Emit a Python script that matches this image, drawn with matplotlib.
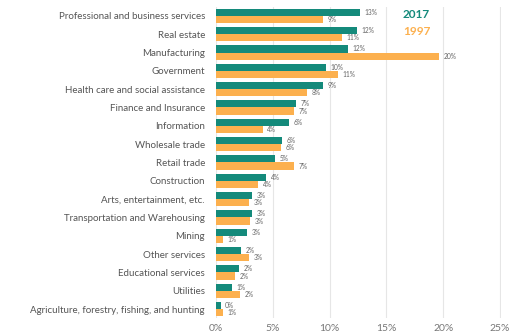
import matplotlib
matplotlib.use("Agg")
import numpy as np
import matplotlib.pyplot as plt

# share of GDP by industry, in percent
industries = [
    "Professional and business services", "Real estate", "Manufacturing",
    "Government", "Health care and social assistance", "Finance and Insurance",
    "Information", "Wholesale trade", "Retail trade", "Construction",
    "Arts, entertainment, etc.", "Transportation and Warehousing", "Mining",
    "Other services", "Educational services", "Utilities",
    "Agriculture, forestry, fishing, and hunting",
]
share_2017 = [12.7, 12.4, 11.6, 9.7, 9.4, 7.0, 6.4, 5.8, 5.2, 4.4,
              3.2, 3.2, 2.7, 2.2, 2.0, 1.4, 0.4]
share_1997 = [9.4, 11.1, 19.6, 10.7, 8.0, 6.9, 4.1, 5.7, 6.9, 3.7,
              2.9, 3.0, 0.6, 2.9, 1.7, 2.1, 0.6]
xticks = [0, 5, 10, 15, 20, 25]

teal = "#148a7b"
orange = "#fcb04e"
label_col = "#555555"

plt.rcParams["font.family"] = ["Lato", "DejaVu Sans"]

fig = plt.figure(figsize=(5.12, 3.35), dpi=100)
ax = fig.add_axes([0.422, 0.05, 0.557, 0.93])

y = np.arange(len(industries))
h = 0.39
ax.barh(y - h / 2, share_2017, height=h, color=teal, zorder=3)
ax.barh(y + h / 2, share_1997, height=h, color=orange, zorder=3)

for yi, v in zip(y, share_2017):
    ax.text(v + 0.4, yi - h / 2, f"{round(v)}%", va="center", ha="left",
            fontsize=4.8, color="#666666")
for yi, v in zip(y, share_1997):
    ax.text(v + 0.4, yi + h / 2, f"{round(v)}%", va="center", ha="left",
            fontsize=4.8, color="#666666")

ax.set_ylim(len(industries) - 0.5, -0.5)
ax.set_xlim(0, 25.1)
ax.set_yticks(y)
ax.set_yticklabels(industries, fontsize=7, color=label_col)
ax.set_xticks(xticks)
ax.set_xticklabels([f"{t}%" for t in xticks], fontsize=7.5, color="#777777")
ax.tick_params(length=0, pad=8)
ax.tick_params(axis="x", pad=4)
ax.grid(axis="x", color="#e6e6e6", lw=0.8, zorder=0)
for s in ax.spines.values():
    s.set_visible(False)

ax.text(0.655, 0.975, "2017", transform=ax.transAxes, fontsize=8.5,
        fontweight="bold", color=teal, ha="left", va="center")
ax.text(0.655, 0.92, "1997", transform=ax.transAxes, fontsize=8.5,
        fontweight="bold", color=orange, ha="left", va="center")

fig.savefig("out.png", dpi=100, facecolor="white")
